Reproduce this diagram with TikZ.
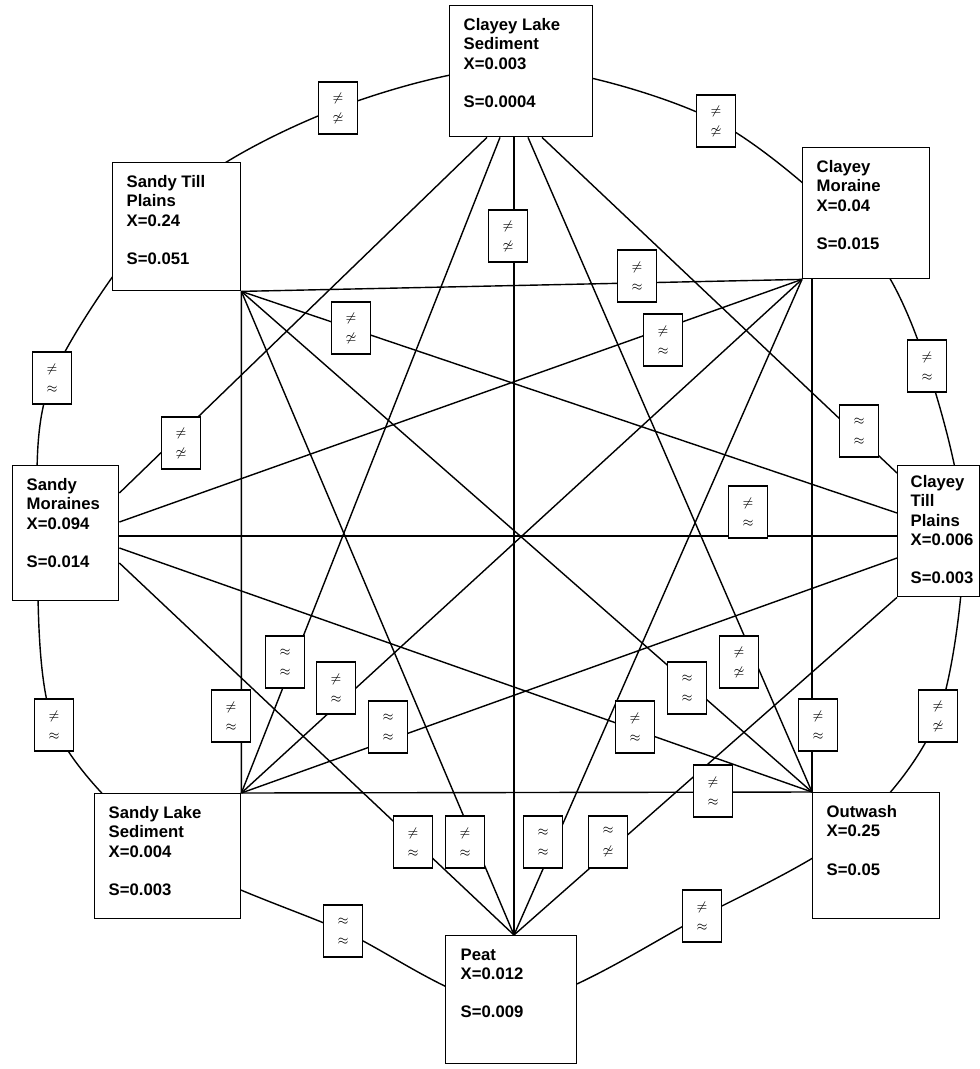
\documentclass[tikz,border=0pt]{standalone}
\usepackage{fontspec}
\setmainfont{Liberation Sans}
\usepackage{amsmath,amssymb}
\usetikzlibrary{calc, positioning}
\pgfdeclarelayer{background}
\pgfsetlayers{background,main}

\begin{document}
\begin{tikzpicture}[x=0.02cm, y=-0.02cm, line width=0.8pt,
    site/.style={draw, fill=white, inner sep=0pt, anchor=north west},
    sitetext/.style={anchor=north west, inner sep=0pt, align=left,
        font=\fontsize{9.5}{10.9}\selectfont\bfseries},
    test/.style={draw, fill=white, inner sep=0pt, minimum width=0.78cm,
        minimum height=1.04cm, align=center, font=\fontsize{7.5}{11.4}\selectfont}]

    \useasboundingbox (0,0) rectangle (980,1069);

    % --- Sites ---
    % Clayey Lake Sediment (top)
    \node[site, minimum width=2.86cm, minimum height=2.62cm] (cls) at (449,5) {};
    \node[sitetext] (cls-txt) at ($(cls.north west)+(14,13)$)
        {Clayey Lake\\Sediment\\X=0.003\\[10.9pt]S=0.0004};

    % Clayey Moraine
    \node[site, minimum width=2.54cm, minimum height=2.62cm] (cm) at (802,147) {};
    \node[sitetext] (cm-txt) at ($(cm.north west)+(14,13)$)
        {Clayey\\Moraine\\X=0.04\\[10.9pt]S=0.015};

    % Clayey Till Plains
    \node[site, minimum width=1.64cm, minimum height=2.62cm] (ctp) at (897,465) {};
    \node[sitetext] (ctp-txt) at ($(ctp.north west)+(13,10)$)
        {Clayey\\Till\\Plains\\X=0.006\\[10.9pt]S=0.003};

    % Outwash
    \node[site, minimum width=2.54cm, minimum height=2.52cm] (ow) at (812,792) {};
    \node[sitetext] (ow-txt) at ($(ow.north west)+(14,13)$)
        {Outwash\\X=0.25\\[10.9pt]S=0.05};

    % Peat (bottom)
    \node[site, minimum width=2.62cm, minimum height=2.56cm] (peat) at (445,935) {};
    \node[sitetext] (peat-txt) at ($(peat.north west)+(15,13)$)
        {Peat\\X=0.012\\[10.9pt]S=0.009};

    % Sandy Lake Sediment
    \node[site, minimum width=2.92cm, minimum height=2.50cm] (sls) at (94,793) {};
    \node[sitetext] (sls-txt) at ($(sls.north west)+(14,13)$)
        {Sandy Lake\\Sediment\\X=0.004\\[10.9pt]S=0.003};

    % Sandy Moraines
    \node[site, minimum width=2.12cm, minimum height=2.70cm] (sm) at (12,465) {};
    \node[sitetext] (sm-txt) at ($(sm.north west)+(14,13)$)
        {Sandy\\Moraines\\X=0.094\\[10.9pt]S=0.014};

    % Sandy Till Plains
    \node[site, minimum width=2.56cm, minimum height=2.56cm] (stp) at (112,162) {};
    \node[sitetext] (stp-txt) at ($(stp.north west)+(14,13)$)
        {Sandy Till\\Plains\\X=0.24\\[10.9pt]S=0.051};

    % --- Test results on the ring ---
    \node[test] (t-stp-cls)  at (338,108) {$\neq$\\$\not\simeq$};
    \node[test] (t-cls-cm)   at (716,121) {$\neq$\\$\not\simeq$};
    \node[test] (t-cm-ctp)   at (927,366) {$\neq$\\$\approx$};
    \node[test] (t-ctp-ow)   at (938,716) {$\neq$\\$\not\simeq$};
    \node[test] (t-ow-peat)  at (702,916) {$\neq$\\$\approx$};
    \node[test] (t-peat-sls) at (343,931) {$\approx$\\$\approx$};
    \node[test] (t-sls-sm)   at (54,725)  {$\neq$\\$\approx$};
    \node[test] (t-sm-stp)   at (52,378)  {$\neq$\\$\approx$};

    % --- Test results on the chords ---
    \node[test] (t-cls-sm)   at (181,443) {$\neq$\\$\not\simeq$};
    \node[test] (t-cls-sls)  at (285,662) {$\approx$\\$\approx$};
    \node[test] (t-cls-peat) at (508,236) {$\neq$\\$\not\simeq$};
    \node[test] (t-cls-ow)   at (739,662) {$\neq$\\$\not\simeq$};
    \node[test] (t-cls-ctp)  at (859,431) {$\approx$\\$\approx$};
    \node[test] (t-stp-cm)   at (637,276) {$\neq$\\$\approx$};
    \node[test] (t-stp-ctp)  at (351,328) {$\neq$\\$\not\simeq$};
    \node[test] (t-stp-ow)   at (687,688) {$\approx$\\$\approx$};
    \node[test] (t-stp-peat) at (465,842) {$\neq$\\$\approx$};
    \node[test] (t-stp-sls)  at (231,716) {$\neq$\\$\approx$};
    \node[test] (t-sm-cm)    at (663,340) {$\neq$\\$\approx$};
    \node[test] (t-sm-ctp)   at (748,512) {$\neq$\\$\approx$};
    \node[test] (t-sm-ow)    at (635,727) {$\neq$\\$\approx$};
    \node[test] (t-sm-peat)  at (413,842) {$\neq$\\$\approx$};
    \node[test] (t-sls-cm)   at (336,688) {$\neq$\\$\approx$};
    \node[test] (t-sls-ctp)  at (388,727) {$\approx$\\$\approx$};
    \node[test] (t-sls-ow)   at (713,791) {$\neq$\\$\approx$};
    \node[test] (t-cm-peat)  at (543,842) {$\approx$\\$\approx$};
    \node[test] (t-cm-ow)    at (818,725) {$\neq$\\$\approx$};
    \node[test] (t-ctp-peat) at (608,842) {$\approx$\\$\not\simeq$};

    % --- Attachment points ---
    \coordinate (cls-sm)   at ($(cls.south west)+(38,0)$);
    \coordinate (cls-sls)  at ($(cls.south west)+(51,0)$);
    \coordinate (cls-peat) at ($(cls.south west)+(65,0)$);
    \coordinate (cls-ow)   at ($(cls.south west)+(79,0)$);
    \coordinate (cls-ctp)  at ($(cls.south west)+(93,0)$);
    \coordinate (sm-cls)   at ($(sm.north east)+(0,28)$);
    \coordinate (sm-cm)    at ($(sm.north east)+(0,57)$);
    \coordinate (sm-ctp)   at ($(sm.north east)+(0,71)$);
    \coordinate (sm-ow)    at ($(sm.north east)+(0,83)$);
    \coordinate (sm-peat)  at ($(sm.north east)+(0,98)$);
    \coordinate (ctp-cls)  at ($(ctp.north west)+(0,8)$);
    \coordinate (ctp-stp)  at ($(ctp.north west)+(0,48)$);
    \coordinate (ctp-sm)   at ($(ctp.north west)+(0,71)$);
    \coordinate (ctp-sls)  at ($(ctp.north west)+(0,93)$);
    \coordinate (cm-ow)    at ($(cm.south west)+(10,0)$);
    \coordinate (peat-top) at ($(peat.north west)+(69,0)$);

    % ring passes under the sites here
    \coordinate (cls-r)  at ($(cls)+(0,-4)$);
    \coordinate (cm-r)   at ($(cm)+(0,31)$);
    \coordinate (ctp-r)  at ($(ctp)+(25,0)$);
    \coordinate (ow-r)   at ($(ow)+(-25,-24)$);
    \coordinate (peat-r) at ($(peat)+(0,5)$);
    \coordinate (sls-r)  at ($(sls)+(3,-2)$);
    \coordinate (sm-r)   at ($(sm)+(-28,-2)$);
    \coordinate (stp-r)  at ($(stp)+(0,-28)$);

    \begin{pgfonlayer}{background}
    \begin{scope}[line width=0.8pt]
    % --- Ring ---
    \draw plot[smooth cycle] coordinates {(cls-r) (t-cls-cm) (cm-r) (t-cm-ctp)
        (ctp-r) (t-ctp-ow) (ow-r) (t-ow-peat) (peat-r) (t-peat-sls)
        (sls-r) (t-sls-sm) (sm-r) (t-sm-stp) (stp-r) (t-stp-cls)};

    % --- Chords ---
    \draw (cls-sm) -- (sm-cls);
    \draw (cls-sls) -- (sls.north east);
    \draw (cls-peat) -- (peat-top);
    \draw (cls-ow) -- (ow.north west);
    \draw (cls-ctp) -- (ctp-cls);
    \draw (stp.south east) -- (cm.south west);
    \draw (stp.south east) -- (ctp-stp);
    \draw (stp.south east) -- (ow.north west);
    \draw (stp.south east) -- (peat-top);
    \draw (stp.south east) -- (sls.north east);
    \draw (sm-cm) -- (cm.south west);
    \draw (sm-ctp) -- (ctp-sm);
    \draw (sm-ow) -- (ow.north west);
    \draw (sm-peat) -- (peat-top);
    \draw (sls.north east) -- (cm.south west);
    \draw (sls.north east) -- (ctp-sls);
    \draw (sls.north east) -- (ow.north west);
    \draw (cm.south west) -- (peat-top);
    \draw (cm-ow) -- (ow.north west);
    \draw (ctp.south west) -- (peat-top);
    \end{scope}
    \end{pgfonlayer}

\end{tikzpicture}
\end{document}
